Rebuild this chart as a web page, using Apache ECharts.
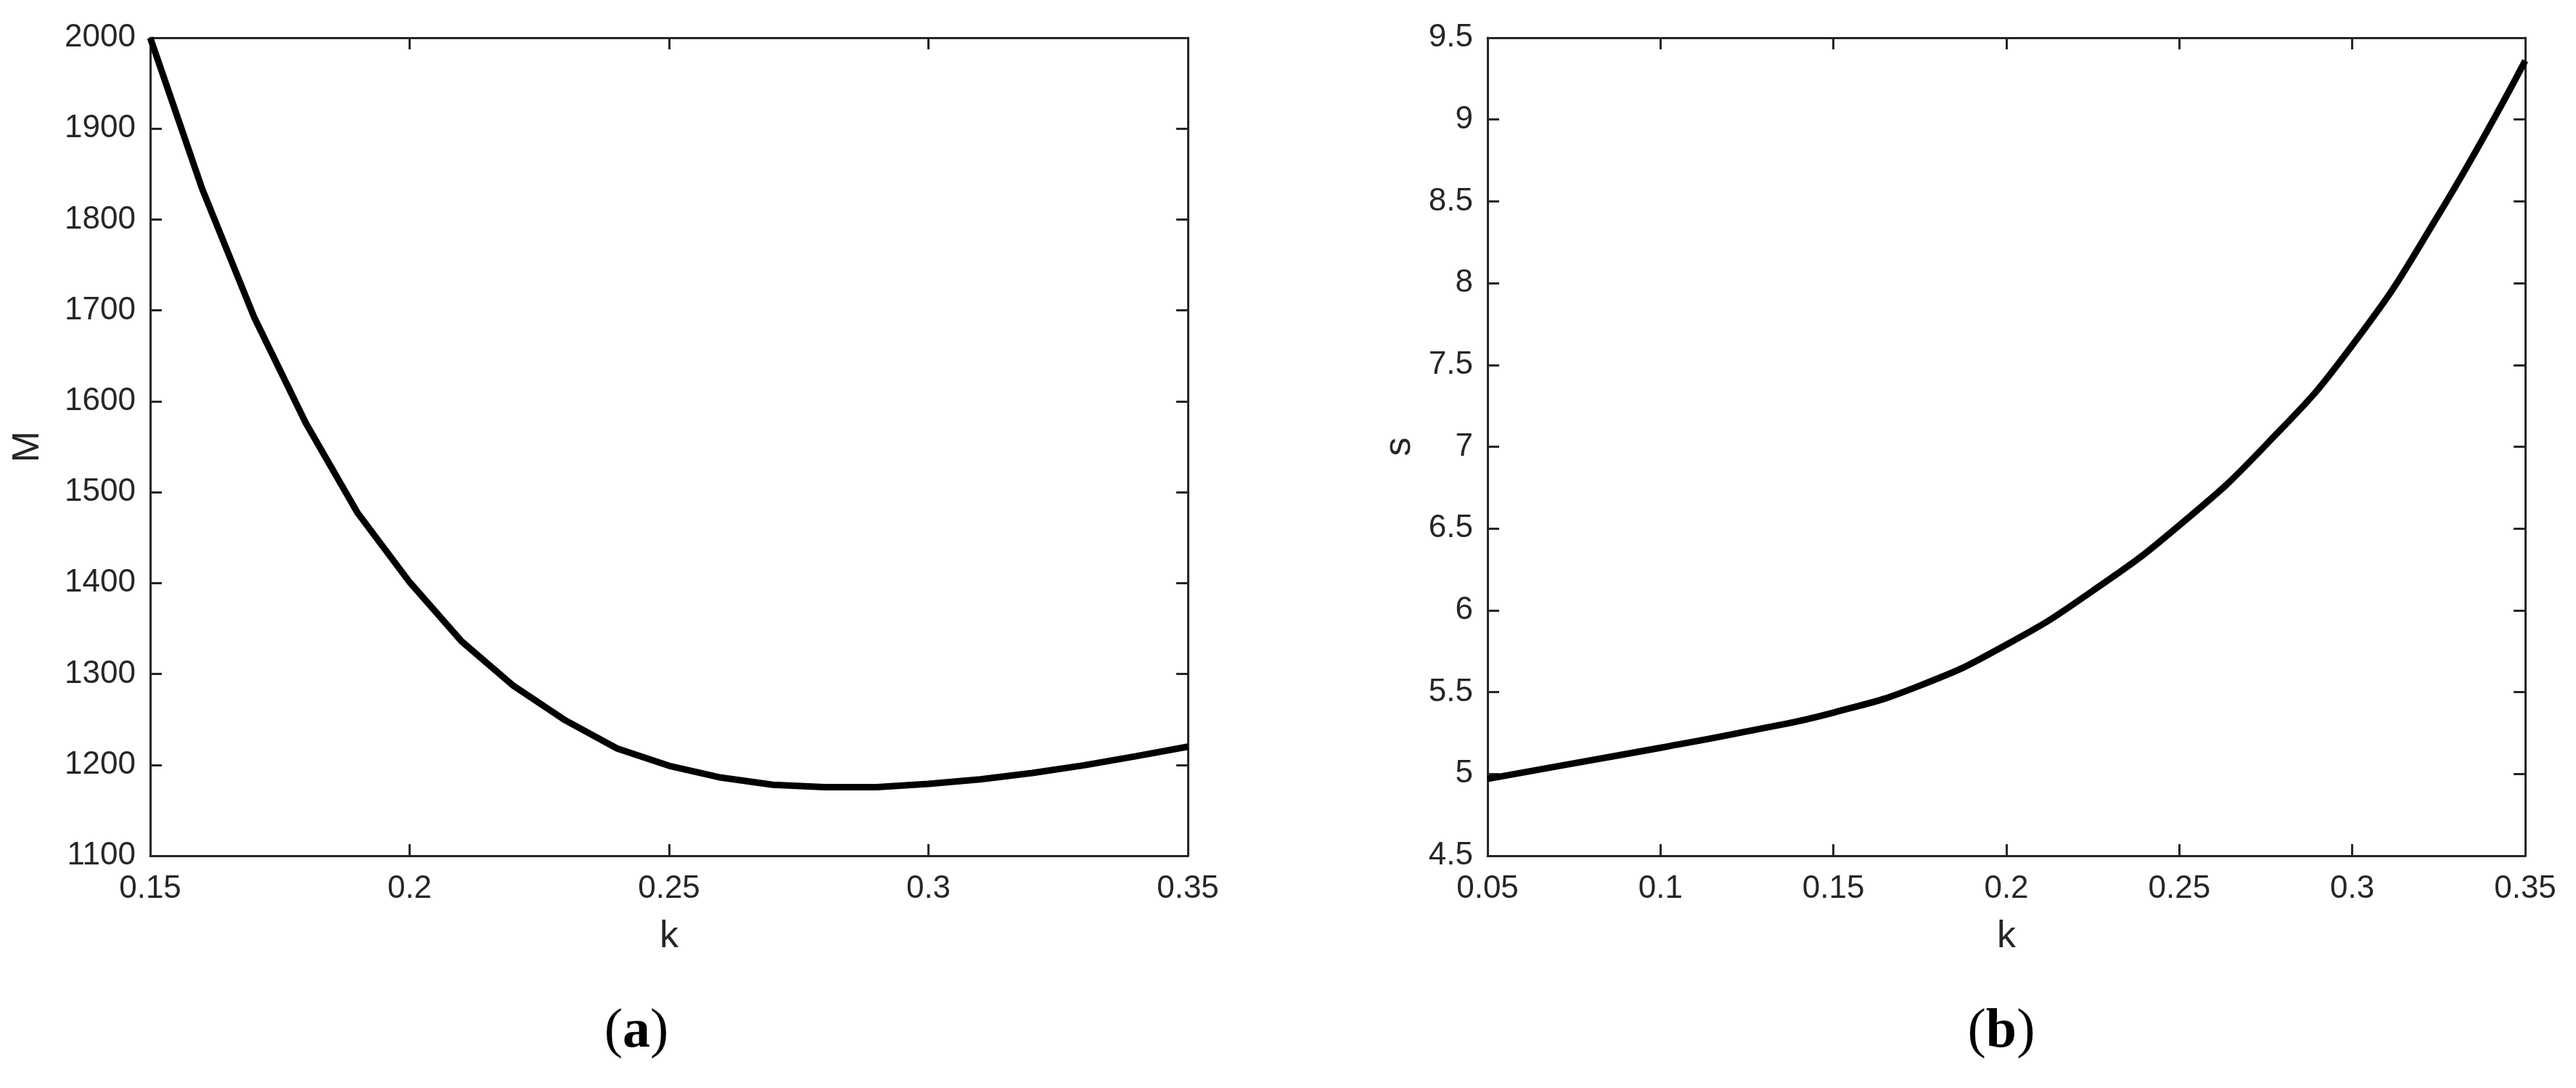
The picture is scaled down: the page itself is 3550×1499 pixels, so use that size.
<!DOCTYPE html>
<html>
<head>
<meta charset="utf-8">
<script src="https://cdn.jsdelivr.net/npm/echarts@6/dist/echarts.min.js"></script>
<style>
html,body{margin:0;padding:0;background:#fff;}
#chart{width:3550px;height:1499px;}
</style>
</head>
<body>
<div id="chart"></div>
<script>
// Panel (a): M versus k
const kA = [0.15,0.16,0.17,0.18,0.19,0.20,0.21,0.22,0.23,0.24,0.25,0.26,0.27,0.28,0.29,0.30,0.31,0.32,0.33,0.34,0.35];
const MA = [2000,1834,1693,1576,1477,1401,1336,1287,1249,1218,1199,1186,1178,1175.5,1175.5,1179,1184,1191,1199.5,1209.5,1220];
// Panel (b): s versus k
const kB = [0.05,0.075,0.10,0.125,0.15,0.175,0.20,0.225,0.25,0.275,0.30,0.325,0.35];
const sB = [4.97,5.065,5.16,5.26,5.375,5.54,5.79,6.12,6.52,7.01,7.62,8.42,9.36];
// Axis tick settings
const xTicksA = {min:0.15, max:0.35, interval:0.05};
const yTicksA = {min:1100, max:2000, interval:100};
const xTicksB = {min:0.05, max:0.35, interval:0.05};
const yTicksB = {min:4.5, max:9.5, interval:0.5};
const xNameA = 'k', yNameA = 'M', xNameB = 'k', yNameB = 's';
const panelLabels = ['a','b'];

const FONT = "'Liberation Sans', Arial, Helvetica, sans-serif";
const AXC = '#262626';
const fmt = v => String(parseFloat(Number(v).toFixed(6)));

function axisBase(gridIndex, t, position, showLabel){
  return {
    type:'value', gridIndex, min:t.min, max:t.max, interval:t.interval, position,
    axisLine:{show:true, onZero:false, lineStyle:{color:AXC, width:3}},
    axisTick:{show:true, inside:true, length:16, lineStyle:{color:AXC, width:3}},
    axisLabel:{show:showLabel, color:AXC, fontSize:44, fontFamily:FONT, margin:20, formatter:fmt},
    splitLine:{show:false}
  };
}
function xAx(gi, t, pos, lab, name){
  const a = axisBase(gi, t, pos, lab);
  a.axisLabel.margin = 24;
  if(name){ a.name = name; a.nameLocation='middle'; a.nameGap = 86;
    a.nameTextStyle = {color:AXC, fontSize:52, fontFamily:FONT}; }
  return a;
}
function yAx(gi, t, pos, lab, name, gap){
  const a = axisBase(gi, t, pos, lab);
  if(name){ a.name = name; a.nameLocation='middle'; a.nameGap = gap; a.nameRotate = 90;
    a.nameTextStyle = {color:AXC, fontSize:52, fontFamily:FONT}; }
  return a;
}

const chart = echarts.init(document.getElementById('chart'), null, {renderer:'canvas'});
const option = {
  backgroundColor:'#fff',
  animation:false,
  grid:[
    {left:207, top:52, width:1430, height:1127},
    {left:2050, top:52, width:1430, height:1127}
  ],
  xAxis:[
    xAx(0, xTicksA, 'bottom', true, xNameA),
    xAx(0, xTicksA, 'top', false),
    xAx(1, xTicksB, 'bottom', true, xNameB),
    xAx(1, xTicksB, 'top', false)
  ],
  yAxis:[
    yAx(0, yTicksA, 'left', true, yNameA, 142),
    yAx(0, yTicksA, 'right', false),
    yAx(1, yTicksB, 'left', true, yNameB, 95),
    yAx(1, yTicksB, 'right', false)
  ],
  series:[
    {type:'line', xAxisIndex:0, yAxisIndex:0, data:kA.map((k,i)=>[k, MA[i]]),
     showSymbol:false, clip:false, lineStyle:{color:'#000', width:9}},
    {type:'line', xAxisIndex:2, yAxisIndex:2, data:kB.map((k,i)=>[k, sB[i]]),
     showSymbol:false, clip:false, smooth:0.5, lineStyle:{color:'#000', width:9}}
  ],
  graphic:[
    {type:'text', x:877, y:1422, style:{
      text:'(' + '{b|' + panelLabels[0] + '})', x:0, y:0, align:'center', verticalAlign:'middle',
      font:"76px 'Liberation Serif', 'Times New Roman', serif", fill:'#000',
      rich:{b:{fontWeight:'bold', fontSize:76, fontFamily:"'Liberation Serif', 'Times New Roman', serif", fill:'#000'}}
    }},
    {type:'text', x:2758, y:1422, style:{
      text:'(' + '{b|' + panelLabels[1] + '})', x:0, y:0, align:'center', verticalAlign:'middle',
      font:"76px 'Liberation Serif', 'Times New Roman', serif", fill:'#000',
      rich:{b:{fontWeight:'bold', fontSize:76, fontFamily:"'Liberation Serif', 'Times New Roman', serif", fill:'#000'}}
    }}
  ]
};
chart.setOption(option);
</script>
</body>
</html>
